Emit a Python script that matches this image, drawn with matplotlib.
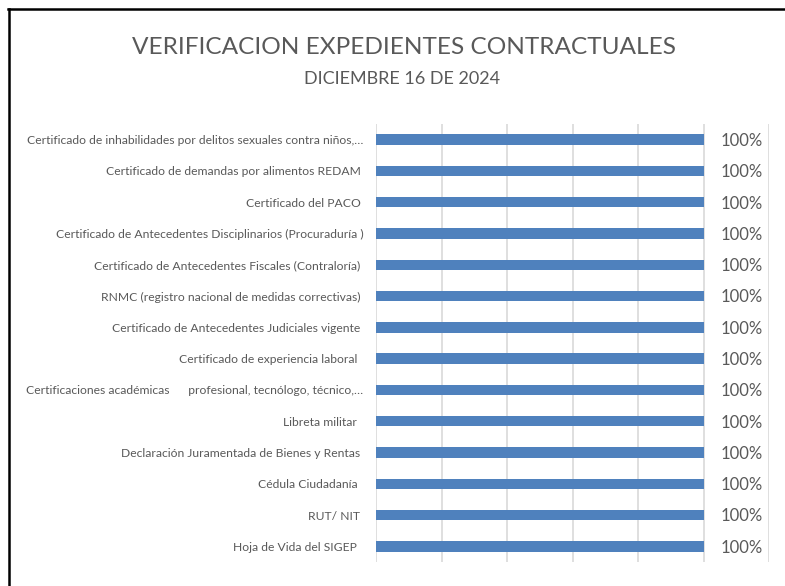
import matplotlib
matplotlib.use("Agg")
import matplotlib.pyplot as plt
from matplotlib.lines import Line2D

categories = [
    "Certificado de inhabilidades por delitos sexuales contra niños,…",
    "Certificado de demandas por alimentos REDAM ",
    "Certificado del PACO ",
    "Certificado de Antecedentes Disciplinarios (Procuraduría )",
    "Certificado de Antecedentes Fiscales (Contraloría) ",
    "RNMC (registro nacional de medidas correctivas) ",
    "Certificado de Antecedentes Judiciales vigente ",
    "Certificado de experiencia laboral  ",
    "Certificaciones académicas      profesional, tecnólogo, técnico,…",
    "Libreta militar  ",
    "Declaración Juramentada de Bienes y Rentas ",
    "Cédula Ciudadanía  ",
    "RUT/ NIT ",
    "Hoja de Vida del SIGEP  ",
]
values = [1.0] * 14
value_labels = ["100%"] * 14
xticks = [0, 0.2, 0.4, 0.6, 0.8, 1.0, 1.2]

title = "VERIFICACION EXPEDIENTES CONTRACTUALES"
subtitle = "DICIEMBRE 16 DE 2024"

font = ["Lato", "DejaVu Sans"]
plt.rcParams["font.family"] = font
txt = "#595959"

fig = plt.figure(figsize=(7.85, 5.86), dpi=100)
ax = fig.add_axes([376 / 785, 1 - 562 / 586, (769 - 376) / 785, (562 - 124) / 586])

ypos = list(range(len(categories)))
ax.barh(ypos, values, height=0.33, color="#4F81BD", zorder=3)
ax.set_ylim(len(categories) - 0.5, -0.5)
ax.set_xlim(0, 1.2)
ax.set_xticks(xticks)
ax.set_xticklabels([])
ax.tick_params(axis="x", length=0)
ax.tick_params(axis="y", length=0, pad=9, labelsize=8.7, labelcolor=txt)
ax.set_yticks(ypos)
ax.set_yticklabels(categories)
ax.grid(axis="x", color="#D9D9D9", linewidth=1.2, zorder=0)
for s in ax.spines.values():
    s.set_visible(False)

for y, v, lab in zip(ypos, values, value_labels):
    ax.annotate(lab, (v, y), xytext=(12, -1), textcoords="offset points",
                ha="left", va="center", fontsize=12, color=txt)

fig.text(404 / 785, 1 - 47 / 586, title, ha="center", va="center", fontsize=17.6,
         color=txt)
fig.text(402 / 785, 1 - 79 / 586, subtitle, ha="center", va="center", fontsize=13,
         color=txt)

# outer frame (top and left edges visible)
fig.add_artist(Line2D([8 / 785, 1], [1 - 8.5 / 586, 1 - 8.5 / 586], transform=fig.transFigure, color="black", linewidth=1.8))
fig.add_artist(Line2D([8.5 / 785, 8.5 / 785], [0, 1 - 8.5 / 586], transform=fig.transFigure, color="black", linewidth=1.8))

fig.savefig("out.png", dpi=100)
